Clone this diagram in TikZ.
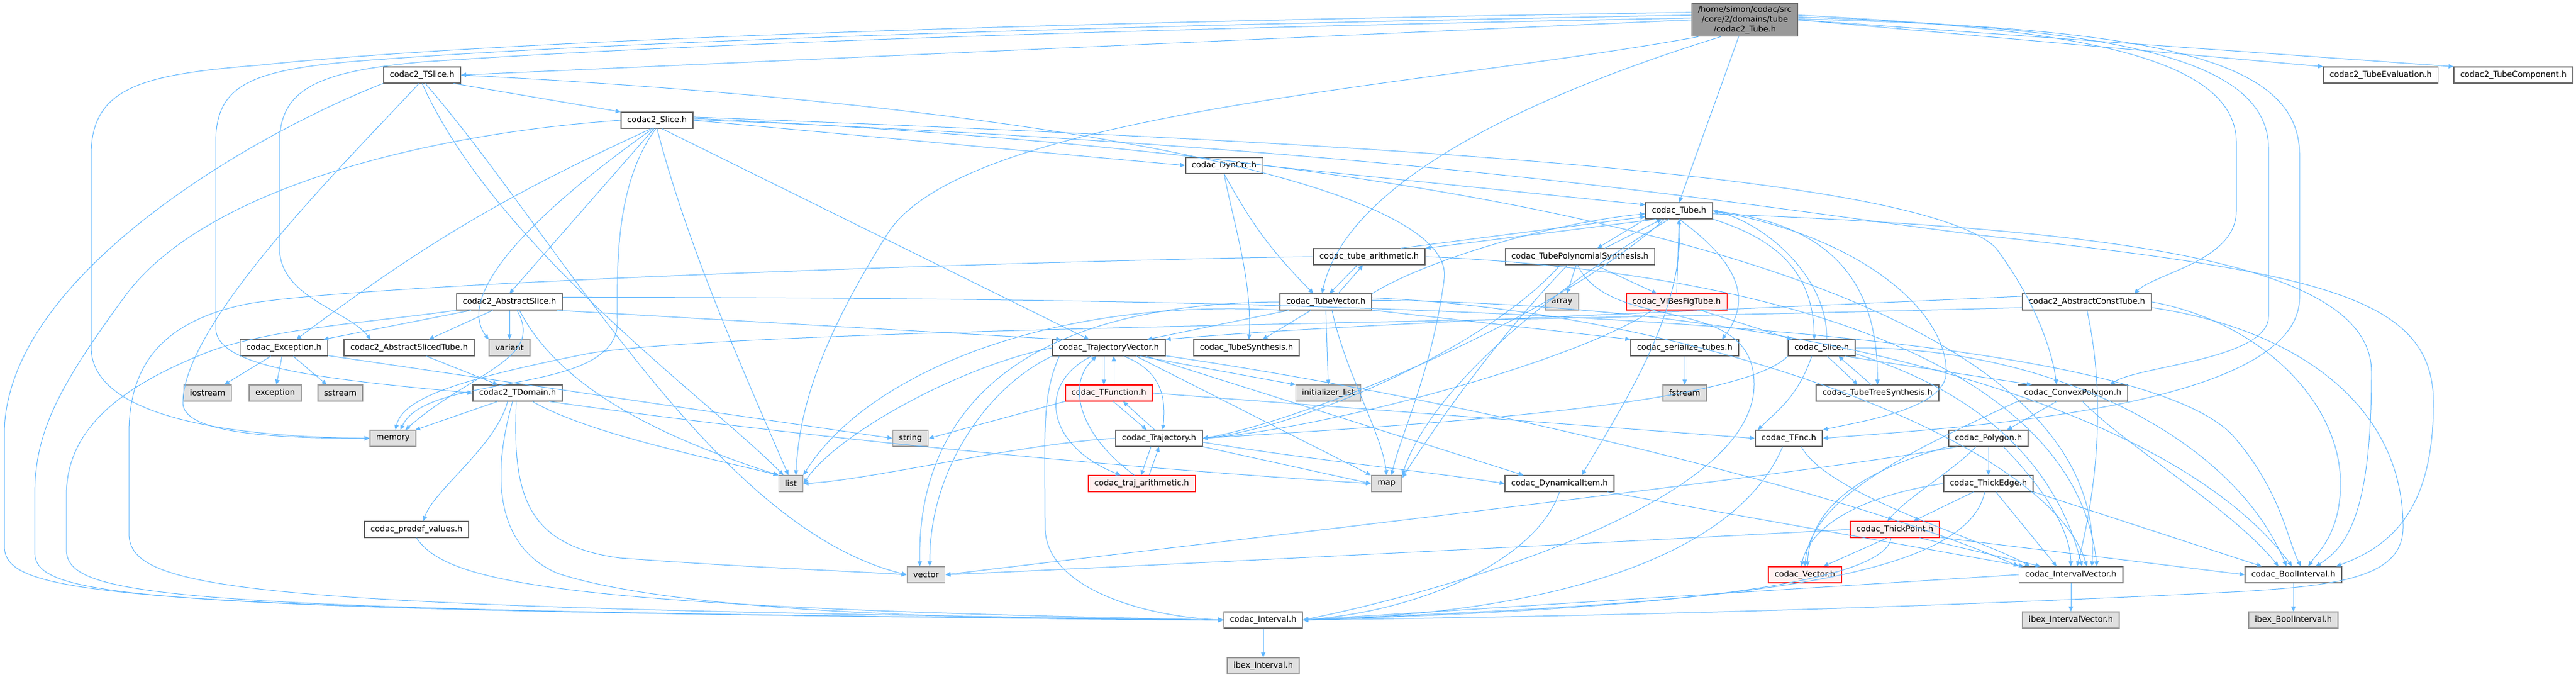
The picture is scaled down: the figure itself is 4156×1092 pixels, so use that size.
\documentclass[tikz,border=0pt]{standalone}
\usepackage{fontspec}
\setmainfont{DejaVu Sans}
\usetikzlibrary{arrows.meta}
\definecolor{edgeblue}{HTML}{63B8FF}
\definecolor{nodeline}{HTML}{666666}
\definecolor{rootfill}{HTML}{999999}
\definecolor{sysfill}{HTML}{E0E0E0}
\definecolor{sysline}{HTML}{999999}
\definecolor{truncfill}{HTML}{FFF0F0}

\tikzset{
  hdr/.style={draw=nodeline, fill=white, line width=0.8pt, inner xsep=5pt, inner ysep=0pt,
    minimum height=12.75pt, font=\fontsize{6.5}{8}\selectfont},
  sys/.style={hdr, draw=sysline, fill=sysfill},
  trunc/.style={hdr, draw=red, fill=truncfill},
  dep/.style={draw=edgeblue, line width=0.5pt, -{Triangle[length=4pt,width=3.5pt]}},
}

\begin{document}
\begin{tikzpicture}[x=0.5pt, y=-0.5pt]
    \useasboundingbox (0,0) rectangle (4156,1092);

    \node[hdr, fill=rootfill, align=center, inner ysep=2pt] (r) at (2815,32)
      {/home/simon/codac/src\\/core/2/domains/tube\\/codac2\_Tube.h};

    \node[hdr] (ts) at (681,121) {codac2\_TSlice.h};
    \node[hdr] (tev) at (3841,121) {codac2\_TubeEvaluation.h};
    \node[hdr] (tco) at (4055,121) {codac2\_TubeComponent.h};
    \node[hdr] (s2) at (1060,194) {codac2\_Slice.h};
    \node[hdr] (dc) at (1975,267) {codac\_DynCtc.h};
    \node[hdr] (t) at (2709,340) {codac\_Tube.h};
    \node[hdr] (ta) at (2209,414) {codac\_tube\_arithmetic.h};
    \node[hdr] (tps) at (2549,414) {codac\_TubePolynomialSynthesis.h};
    \node[hdr] (as) at (822,487) {codac2\_AbstractSlice.h};
    \node[hdr] (tv) at (2139,487) {codac\_TubeVector.h};
    \node[sys] (arr) at (2520,487) {array};
    \node[trunc] (vf) at (2705,487) {codac\_VIBesFigTube.h};
    \node[hdr] (act) at (3367,487) {codac2\_AbstractConstTube.h};
    \node[hdr] (ex) at (458,561) {codac\_Exception.h};
    \node[hdr] (ast) at (660,561) {codac2\_AbstractSlicedTube.h};
    \node[sys] (var) at (822,561) {variant};
    \node[hdr] (tjv) at (1789,561) {codac\_TrajectoryVector.h};
    \node[hdr] (tsy) at (2011,561) {codac\_TubeSynthesis.h};
    \node[hdr] (ser) at (2718,561) {codac\_serialize\_tubes.h};
    \node[hdr] (sl) at (2939,561) {codac\_Slice.h};
    \node[sys] (ios) at (335,634) {iostream};
    \node[sys] (exc) at (444,634) {exception};
    \node[sys] (sst) at (549,634) {sstream};
    \node[hdr] (td) at (835,634) {codac2\_TDomain.h};
    \node[trunc] (tfu) at (1789,634) {codac\_TFunction.h};
    \node[sys] (il) at (2143,634) {initializer\_list};
    \node[sys] (fs) at (2718,634) {fstream};
    \node[hdr] (tts) at (3029,634) {codac\_TubeTreeSynthesis.h};
    \node[hdr] (cp) at (3344,634) {codac\_ConvexPolygon.h};
    \node[sys] (mem) at (634,707) {memory};
    \node[sys] (str) at (1469,707) {string};
    \node[hdr] (tj) at (1870,707) {codac\_Trajectory.h};
    \node[hdr] (tfn) at (2886,707) {codac\_TFnc.h};
    \node[hdr] (pg) at (3208,707) {codac\_Polygon.h};
    \node[sys] (lst) at (1276,780) {list};
    \node[trunc] (tra) at (1842,780) {codac\_traj\_arithmetic.h};
    \node[sys] (map) at (2237,780) {map};
    \node[hdr] (di) at (2516,780) {codac\_DynamicalItem.h};
    \node[hdr] (te) at (3208,780) {codac\_ThickEdge.h};
    \node[hdr] (pv) at (672,854) {codac\_predef\_values.h};
    \node[trunc] (tp) at (3057,854) {codac\_ThickPoint.h};
    \node[sys] (vec) at (1494,927) {vector};
    \node[trunc] (vc) at (2912,927) {codac\_Vector.h};
    \node[hdr] (iv) at (3341,927) {codac\_IntervalVector.h};
    \node[hdr] (bi) at (3700,927) {codac\_BoolInterval.h};
    \node[hdr] (itv) at (2038,1000) {codac\_Interval.h};
    \node[sys] (iiv) at (3341,1000) {ibex\_IntervalVector.h};
    \node[sys] (ibi) at (3700,1000) {ibex\_BoolInterval.h};
    \node[sys] (ii) at (2038,1074) {ibex\_Interval.h};

      \draw[dep] (r.west) -- (ts.east);
      \draw[dep] (r.east) -- (tev.north west);
      \draw[dep] (r.east) -- (tco.north west);
      \draw[dep] (r.250) -- (t.north);
      \draw[dep] (r.215) .. controls (2450,160) and (2170,300) .. ([xshift=-3pt]tv.north);
      \draw[dep] (r.172) .. controls (1400,40) and (700,75) .. (420,105) .. controls (230,120) and (147,140) .. (147,250) -- (147,560) .. controls (147,680) and (400,705) .. (mem.west);
      \draw[dep] (r.175) .. controls (1400,48) and (800,80) .. (560,100) .. controls (400,115) and (348,140) .. (348,230) -- (348,530) .. controls (350,590) and (500,610) .. (td.west);
      \draw[dep] (r.178) .. controls (1400,55) and (900,85) .. (680,100) .. controls (520,115) and (451,140) .. (451,230) -- (451,400) .. controls (451,480) and (560,500) .. ([xshift=-31pt]ast.north);
      \draw[dep] (r.200) .. controls (2300,140) and (1550,180) .. (1430,380) .. controls (1330,540) and (1290,650) .. ([xshift=4pt]lst.north);
      \draw[dep] (r.5) .. controls (3300,45) and (3608,80) .. (3608,230) -- (3608,340) .. controls (3608,420) and (3480,440) .. ([xshift=38pt]act.north);
      \draw[dep] (r.3) .. controls (3400,45) and (3660,90) .. (3660,240) -- (3660,510) .. controls (3660,580) and (3450,590) .. ([xshift=30pt]cp.north);
      \draw[dep] (r.1) .. controls (3500,45) and (3710,100) .. (3710,250) -- (3710,480) .. controls (3710,660) and (3150,690) .. (tfn.east);

      \draw[dep] (ts.-15) -- (s2.north west);
      \draw[dep] (ts.south west) .. controls (400,220) and (7,450) .. (7,700) -- (7,880) .. controls (7,960) and (150,985) .. (itv.west);
      \draw[dep] (ts.250) .. controls (560,260) and (295,520) .. (295,650) .. controls (295,700) and (450,707) .. (mem.west);
      \draw[dep] (ts.south) .. controls (800,400) and (1150,650) .. ([xshift=-6pt]lst.north);
      \draw[dep] (ts.290) .. controls (900,380) and (1150,850) .. (vec.west);
      \draw[dep] (ts.east) .. controls (1700,170) and (2350,300) .. (2330,450) .. controls (2310,600) and (2260,700) .. ([xshift=4pt]map.north);

      \draw[dep] (s2.east) -- (dc.west);
      \draw[dep] (s2.250) -- (as.north);
      \draw[dep] (s2.235) to[bend right=6] ([xshift=10pt]ex.north);
      \draw[dep] (s2.243) .. controls (880,330) and (730,470) .. (var.north west);
      \draw[dep] (s2.262) .. controls (990,300) and (996,440) .. (996,520) .. controls (996,640) and (690,600) .. ([xshift=6pt]mem.north);
      \draw[dep] (s2.south) .. controls (1110,400) and (1200,600) .. ([xshift=-2pt]lst.north);
      \draw[dep] (s2.300) -- ([xshift=-16pt]tjv.north);
      \draw[dep] (s2.west) .. controls (700,215) and (330,300) .. (200,480) .. controls (90,630) and (56,700) .. (56,800) -- (56,890) .. controls (56,965) and (200,985) .. (itv.west);
      \draw[dep] (s2.5) .. controls (2200,230) and (3100,280) .. (3220,400) .. controls (3280,480) and (3310,560) .. ([xshift=-13pt]cp.north);
      \draw[dep] (s2.3) .. controls (2600,260) and (3400,500) .. ([xshift=17pt]iv.north);
      \draw[dep] (s2.1) .. controls (2300,240) and (2800,330) .. (3200,380) .. controls (3750,440) and (3926,480) .. (3926,650) .. controls (3926,820) and (3860,880) .. ([xshift=34.5pt]bi.north);

      \draw[dep] (dc.east) -- (t.170);
      \draw[dep] (dc.south) to[bend right=8] ([xshift=-10pt]tv.north);
      \draw[dep] (dc.south) .. controls (1990,360) and (2020,450) .. ([xshift=2pt]tsy.north);

      \draw[dep] (t.south west) -- ([xshift=14pt]tps.north);
      \draw[dep] ([xshift=20pt]tps.north) -- ([xshift=-14pt]t.south);
      \draw[dep] (t.200) -- (ta.north east);
      \draw[dep] (ta.15) -- (t.190);
      \draw[dep] (t.south) .. controls (2800,420) and (2830,480) .. ([xshift=30pt]ser.north);
      \draw[dep] (t.south east) .. controls (2880,390) and (2925,450) .. ([xshift=-6pt]sl.north);
      \draw[dep] ([xshift=4pt]sl.north) .. controls (2950,450) and (2850,360) .. (t.east);
      \draw[dep] (t.east) .. controls (2950,360) and (3030,450) .. (tts.north);
      \draw[dep] (t.210) .. controls (2500,520) and (2100,680) .. (tj.east);
      \draw[dep] (t.south) .. controls (2720,500) and (2620,650) .. ([xshift=18pt]di.north);
      \draw[dep] (t.220) .. controls (2450,500) and (2300,650) .. (map.north east);
      \draw[dep] (t.-5) .. controls (3400,370) and (3826,420) .. (3826,600) .. controls (3826,820) and (3790,880) .. ([xshift=18pt]bi.north);
      \draw[dep] (t.east) .. controls (3000,380) and (3140,500) .. (3140,600) .. controls (3140,660) and (3000,680) .. (tfn.north east);

      \draw[dep] ([xshift=-9.5pt]ta.south) -- ([xshift=3pt]tv.north);
      \draw[dep] ([xshift=10pt]tv.north) -- ([xshift=-5pt]ta.south);
      \draw[dep] (ta.west) .. controls (1700,420) and (600,455) .. (400,490) .. controls (250,520) and (208,600) .. (208,700) -- (208,860) .. controls (208,955) and (400,980) .. (itv.west);
      \draw[dep] (ta.east) .. controls (2900,440) and (3350,600) .. ([xshift=21pt]iv.north);

      \draw[dep] ([xshift=-3pt]tps.south) -- ([xshift=4pt]arr.north);
      \draw[dep] ([xshift=12.5pt]tps.south) -- ([xshift=-16pt]vf.north);
      \draw[dep] ([xshift=-16pt]tps.south) .. controls (2400,560) and (2100,690) .. (tj.east);
      \draw[dep] ([xshift=-10pt]tps.south) .. controls (2420,540) and (2320,680) .. (map.20);
      \draw[dep] ([xshift=-2pt]tps.south) .. controls (2600,540) and (2830,470) .. (2830,620) .. controls (2830,820) and (2300,960) .. (itv.east);

      \draw[dep] (vf.north) -- (t.south);
      \draw[dep] ([xshift=19.5pt]vf.south) -- ([xshift=-24pt]sl.north);
      \draw[dep] ([xshift=-20pt]vf.south) .. controls (2550,580) and (2150,690) .. (tj.east);

      \draw[dep] ([xshift=-30pt]tv.south) -- ([xshift=31pt]tjv.north);
      \draw[dep] ([xshift=-12pt]tv.south) -- ([xshift=13pt]tsy.north);
      \draw[dep] (tv.south) -- (il.north);
      \draw[dep] ([xshift=5pt]tv.south) .. controls (2170,600) and (2230,700) .. (map.north);
      \draw[dep] (tv.-10) -- (ser.north west);
      \draw[dep] (tv.west) .. controls (1600,490) and (1480,700) .. ([xshift=-5pt]vec.north);
      \draw[dep] (tv.190) .. controls (1700,480) and (1400,600) .. ([xshift=10pt]lst.north);
      \draw[dep] (tv.5) .. controls (2700,500) and (3300,700) .. ([xshift=13pt]iv.north);
      \draw[dep] (tv.2) .. controls (2900,490) and (3500,650) .. ([xshift=-1pt]bi.north);
      \draw[dep] (tv.north east) .. controls (2300,420) and (2500,360) .. (t.185);

      \draw[dep] (act.175) .. controls (2800,500) and (2200,520) .. (tjv.north east);
      \draw[dep] (act.185) .. controls (2400,520) and (1200,530) .. (950,570) .. controls (750,610) and (650,640) .. ([xshift=2pt]mem.north);
      \draw[dep] (act.south) .. controls (3400,650) and (3380,800) .. ([xshift=5pt]iv.north);
      \draw[dep] (act.east) .. controls (3650,520) and (3776,650) .. (3776,780) .. controls (3776,860) and (3740,890) .. ([xshift=12pt]bi.north);
      \draw[dep] (act.-5) .. controls (3700,530) and (3877,650) .. (3877,850) .. controls (3877,930) and (3780,945) .. (3600,955) .. controls (3000,985) and (2500,995) .. (itv.east);

      \draw[dep] ([xshift=14pt]ast.south) -- ([xshift=-16pt]td.north);

      \draw[dep] ([xshift=-31pt]as.south) -- ([xshift=32pt]ex.north);
      \draw[dep] ([xshift=-13.5pt]as.south) -- ([xshift=16pt]ast.north);
      \draw[dep] (as.south) -- (var.north);
      \draw[dep] ([xshift=6pt]as.south) .. controls (880,580) and (760,600) .. ([xshift=10pt]mem.north);
      \draw[dep] ([xshift=8pt]as.south) .. controls (900,620) and (1050,700) .. ([xshift=-10pt]lst.north);
      \draw[dep] (as.south west) .. controls (600,520) and (430,530) .. (330,570) .. controls (180,630) and (107,700) .. (107,800) -- (107,885) .. controls (107,965) and (250,985) .. (itv.west);
      \draw[dep] (as.-10) -- (tjv.170);
      \draw[dep] (as.5) .. controls (2000,480) and (3400,500) .. (3600,700) .. controls (3680,790) and (3690,870) .. ([xshift=6pt]bi.north);

      \draw[dep] ([xshift=-10.5pt]ex.south) -- ([xshift=13.5pt]ios.north);
      \draw[dep] ([xshift=-1.5pt]ex.south) -- ([xshift=1pt]exc.north);
      \draw[dep] ([xshift=7.5pt]ex.south) -- ([xshift=-11pt]sst.north);
      \draw[dep] (ex.-10) -- (str.west);

      \draw[dep] ([xshift=-16pt]td.south) -- ([xshift=18pt]mem.north);
      \draw[dep] ([xshift=-8pt]td.south) .. controls (800,720) and (700,790) .. ([xshift=5.5pt]pv.north);
      \draw[dep] ([xshift=-4pt]td.south) .. controls (795,760) and (795,880) .. (900,925) .. controls (1100,990) and (1600,1000) .. (itv.west);
      \draw[dep] ([xshift=-1pt]td.south) .. controls (826,800) and (850,880) .. (1000,900) .. controls (1200,915) and (1350,920) .. (vec.west);
      \draw[dep] ([xshift=12pt]td.south) .. controls (950,700) and (1150,740) .. (lst.north west);
      \draw[dep] (td.-15) .. controls (1400,720) and (1900,760) .. (map.west);

      \draw[dep] (pv.south) .. controls (720,940) and (900,980) .. (itv.west);

      \draw[dep] ([xshift=-4pt]tjv.south) -- ([xshift=-4pt]tfu.north);
      \draw[dep] ([xshift=4pt]tfu.north) -- ([xshift=4pt]tjv.south);
      \draw[dep] ([xshift=12pt]tjv.south) .. controls (1880,600) and (1880,650) .. ([xshift=3pt]tj.north);
      \draw[dep] ([xshift=-14pt]tjv.south) .. controls (1670,620) and (1690,720) .. ([xshift=-17pt]tra.north);
      \draw[dep] ([xshift=-6pt]tra.north) .. controls (1740,700) and (1720,620) .. ([xshift=-10pt]tjv.south);
      \draw[dep] (tjv.-15) -- (il.north west);
      \draw[dep] ([xshift=22pt]tjv.south) -- (map.north west);
      \draw[dep] (tjv.south west) .. controls (1600,620) and (1500,750) .. ([xshift=3pt]vec.north);
      \draw[dep] ([xshift=-40pt]tjv.south) .. controls (1680,640) and (1686,700) .. (1686,850) .. controls (1686,950) and (1850,995) .. (itv.west);
      \draw[dep] ([xshift=30pt]tjv.south) -- ([xshift=-29pt]di.north);
      \draw[dep] (tjv.-8) .. controls (2400,650) and (3000,800) .. (iv.north west);
      \draw[dep] (tjv.west) .. controls (1550,590) and (1350,700) .. (lst.east);

      \draw[dep] ([xshift=3.5pt]tfu.south) -- ([xshift=-10pt]tj.north);
      \draw[dep] ([xshift=-3.5pt]tj.north) -- ([xshift=11.5pt]tfu.south);
      \draw[dep] (tfu.south west) -- (str.east);
      \draw[dep] (tfu.east) -- (tfn.west);

      \draw[dep] ([xshift=-6.5pt]tj.south) -- ([xshift=-0.5pt]tra.north);
      \draw[dep] ([xshift=6pt]tra.north) -- (tj.south);
      \draw[dep] (tj.south east) -- (map.west);
      \draw[dep] (tj.-5) .. controls (2100,740) and (2300,760) .. (di.west);
      \draw[dep] (tj.west) .. controls (1650,715) and (1400,775) .. (lst.east);

      \draw[dep] (di.south) .. controls (2480,900) and (2300,985) .. (itv.east);
      \draw[dep] (di.-10) -- ([xshift=-38pt]iv.north);

      \draw[dep] (sl.-20) -- ([xshift=-33pt]cp.north);
      \draw[dep] ([xshift=4.5pt]sl.south) -- ([xshift=-16pt]tts.north);
      \draw[dep] ([xshift=-5pt]tts.north) -- ([xshift=13.5pt]sl.south);
      \draw[dep] ([xshift=-8pt]sl.south) .. controls (2900,640) and (2870,660) .. ([xshift=-25pt]tfn.north);
      \draw[dep] (sl.east) .. controls (3300,560) and (3600,700) .. ([xshift=-5.5pt]bi.north);
      \draw[dep] (sl.south west) .. controls (2800,660) and (2200,690) .. (tj.east);
      \draw[dep] (sl.-10) .. controls (3250,650) and (3330,800) .. ([xshift=9pt]iv.north);

      \draw[dep] ([xshift=-13pt]cp.south) -- ([xshift=15pt]pg.north);
      \draw[dep] (cp.south west) .. controls (3100,720) and (2920,800) .. (vc.north);
      \draw[dep] ([xshift=8pt]cp.south) .. controls (3430,720) and (3600,820) .. ([xshift=-12pt]bi.north);

      \draw[dep] (pg.south) -- (te.north);
      \draw[dep] ([xshift=-10pt]pg.south) .. controls (3150,760) and (3080,800) .. ([xshift=-6pt]tp.north);
      \draw[dep] (pg.south west) .. controls (3000,760) and (2920,820) .. ([xshift=2pt]vc.north);
      \draw[dep] ([xshift=12pt]pg.south) .. controls (3290,780) and (3340,850) .. (iv.north);
      \draw[dep] ([xshift=-25pt]pg.south) .. controls (2950,760) and (2000,870) .. (vec.east);

      \draw[dep] ([xshift=-12pt]te.south) -- ([xshift=15pt]tp.north);
      \draw[dep] (te.west) .. controls (3000,800) and (2920,850) .. ([xshift=-3pt]vc.north);
      \draw[dep] ([xshift=6pt]te.south) -- ([xshift=-11.5pt]iv.north);
      \draw[dep] (te.south east) -- ([xshift=-25.5pt]bi.north);
      \draw[dep] ([xshift=-3pt]te.south) .. controls (3170,950) and (2700,975) .. (itv.east);

      \draw[dep] ([xshift=-6pt]tp.south) -- ([xshift=15pt]vc.north);
      \draw[dep] ([xshift=20pt]tp.south) -- ([xshift=-24.5pt]iv.north);
      \draw[dep] (tp.-10) -- (bi.west);
      \draw[dep] ([xshift=-3pt]tp.south) .. controls (3040,950) and (2600,985) .. (itv.east);
      \draw[dep] (tp.west) .. controls (2500,880) and (1800,915) .. (vec.east);

      \draw[dep] ([xshift=-5pt]tfn.south) .. controls (2800,900) and (2500,990) .. (itv.east);
      \draw[dep] ([xshift=10pt]tfn.south) .. controls (2950,800) and (3200,870) .. ([xshift=-33pt]iv.north);

      \draw[dep] (ser.south) -- (fs.north);
      \draw[dep] (iv.south) -- (iiv.north);
      \draw[dep] (iv.west) -- (itv.east);
      \draw[dep] (bi.south) -- (ibi.north);
      \draw[dep] (itv.south) -- (ii.north);
  \end{tikzpicture}
\end{document}
